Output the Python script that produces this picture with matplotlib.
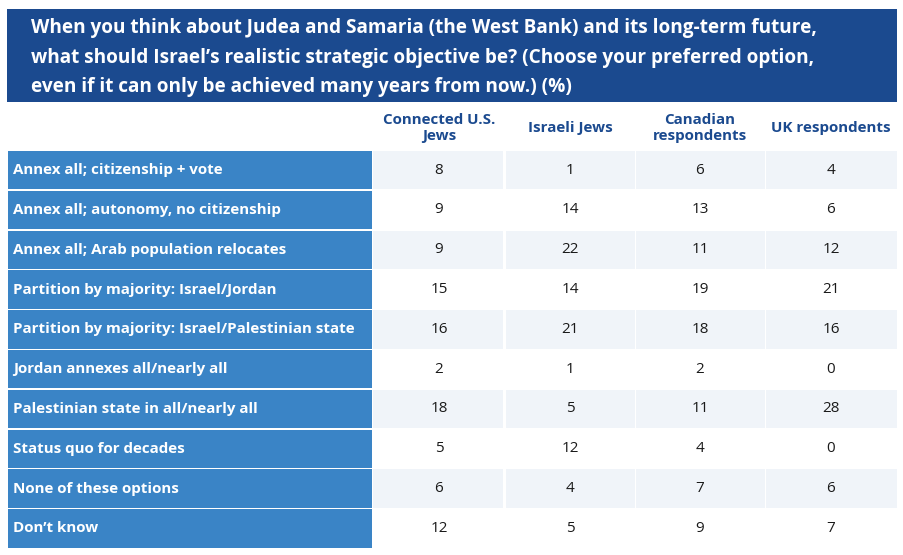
import matplotlib
matplotlib.use("Agg")
import matplotlib.pyplot as plt
from matplotlib.patches import Rectangle

title_lines = [
    "When you think about Judea and Samaria (the West Bank) and its long-term future,",
    "what should Israel\u2019s realistic strategic objective be? (Choose your preferred option,",
    "even if it can only be achieved many years from now.) (%)",
]
columns = ["Connected U.S.\nJews", "Israeli Jews", "Canadian\nrespondents", "UK respondents"]
categories = [
    "Annex all; citizenship + vote",
    "Annex all; autonomy, no citizenship",
    "Annex all; Arab population relocates",
    "Partition by majority: Israel/Jordan",
    "Partition by majority: Israel/Palestinian state",
    "Jordan annexes all/nearly all",
    "Palestinian state in all/nearly all",
    "Status quo for decades",
    "None of these options",
    "Don\u2019t know",
]
us_jews = [8, 9, 9, 15, 16, 2, 18, 5, 6, 12]
israeli_jews = [1, 14, 22, 14, 21, 1, 5, 12, 4, 5]
canadian = [6, 13, 11, 19, 18, 2, 11, 4, 7, 9]
uk = [4, 6, 12, 21, 16, 0, 28, 0, 6, 7]
series = [us_jews, israeli_jews, canadian, uk]

W, H = 904, 555
fig = plt.figure(figsize=(W / 100, H / 100), dpi=100)
ax = fig.add_axes([0, 0, 1, 1])
ax.set_xlim(0, W)
ax.set_ylim(H, 0)
ax.axis("off")

FONT = "Open Sans"
DARK = "#1b4a8f"
LABEL_BG = "#3a84c6"
LIGHT = "#f0f4f9"

# title box
ax.add_patch(Rectangle((7, 9), 890, 93, color=DARK, lw=0))
for i, line in enumerate(title_lines):
    ax.text(31, 28 + i * 29.5, line, color="white", fontsize=13.7, fontweight="bold",
            family=FONT, va="center", ha="left")

# geometry
left, label_w = 8, 364
col_edges = [373, 505, 635, 765, 897]
top, row_h = 151, 39.8
gap = 1.5

# header
for j, c in enumerate(columns):
    cx = (col_edges[j] + col_edges[j + 1]) / 2
    ax.text(cx, 128, c, color=DARK, fontsize=10.9, fontweight="bold", family=FONT,
            ha="center", va="center", linespacing=1.1)

for i, cat in enumerate(categories):
    y = top + i * row_h
    ax.add_patch(Rectangle((left, y), label_w, row_h - gap, color=LABEL_BG, lw=0))
    ax.text(left + 5, y + (row_h - gap) / 2, cat, color="white", fontsize=10.9,
            fontweight="bold", family=FONT, va="center", ha="left")
    bg = LIGHT if i % 2 == 0 else "white"
    for j, s in enumerate(series):
        x0 = col_edges[j]
        ax.add_patch(Rectangle((x0 + (0 if j == 0 else gap), y),
                               col_edges[j + 1] - x0 - gap, row_h - gap, color=bg, lw=0))
        ax.text((col_edges[j] + col_edges[j + 1]) / 2, y + (row_h - gap) / 2, str(s[i]),
                color="#1a1a1a", fontsize=11, family=FONT, ha="center", va="center")

fig.savefig("out.png", dpi=100)
